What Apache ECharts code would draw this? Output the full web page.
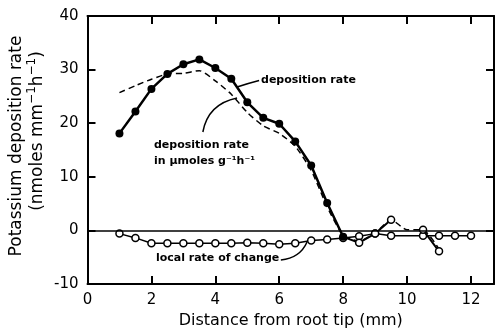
<!DOCTYPE html>
<html><head><meta charset="utf-8">
<script src="https://cdn.jsdelivr.net/npm/echarts@6/dist/echarts.min.js"></script>
<style>html,body{margin:0;padding:0;background:#fff}#c{width:495px;height:331px}</style>
</head><body><div id="c"></div>
<script>
// Deposition rate (nmoles mm-1 h-1), filled circles
const depX = [1, 1.5, 2, 2.5, 3, 3.5, 4, 4.5, 5, 5.5, 6, 6.5, 7, 7.5, 8];
const depY = [18.1, 22.2, 26.4, 29.2, 31.0, 31.9, 30.3, 28.3, 23.9, 21.0, 19.9, 16.6, 12.1, 5.1, -1.2];
// Deposition rate beyond 8 mm (open circles); '-' = gap
const tailX = [8, 8.5, 9, 9.5, 10, 10.5, 11];
const tailY = [-1.2, -2.3, -0.6, 2.0, '-', 0.1, -3.9];
// Deposition rate in umoles g-1 h-1 (dashed)
const umolX = [1, 1.5, 2, 2.5, 3, 3.5, 4, 4.5, 5, 5.5, 6, 6.5, 7, 7.5, 8, 8.5, 9, 9.5, 10, 10.5, 11];
const umolY = [25.7, 27.0, 28.2, 29.2, 29.3, 29.8, 27.9, 25.4, 22.0, 19.5, 18.1, 15.7, 11.2, 4.4, -0.9, -2.0, -0.5, 2.0, 0.1, 0.1, -3.5];
// Local rate of change (open circles)
const locX = [1, 1.5, 2, 2.5, 3, 3.5, 4, 4.5, 5, 5.5, 6, 6.5, 7, 7.5, 8, 8.5, 9, 9.5, 10.5, 11, 11.5, 12];
const locY = [-0.6, -1.4, -2.4, -2.4, -2.4, -2.4, -2.4, -2.4, -2.3, -2.4, -2.6, -2.4, -1.9, -1.7, -1.4, -1.1, -0.6, -1.0, -1.0, -1.0, -1.0, -1.0];
// Axis ticks
const xTicks = [0, 2, 4, 6, 8, 10, 12];
const yTicks = [-10, 0, 10, 20, 30, 40];

const zip = (xs, ys) => xs.map((x, i) => [x, ys[i]]);
const FONT = 'DejaVu Sans';
const chart = echarts.init(document.getElementById('c'), null, {renderer: 'canvas'});

const axisCommon = {
  axisLine: {show: true, onZero: false, lineStyle: {color: '#000', width: 2}},
  axisTick: {show: true, inside: true, length: 8, lineStyle: {color: '#000', width: 2}},
  splitLine: {show: false}
};

const tailData = zip(tailX, tailY).map((p, i) => i === 0 ? {value: p, symbol: 'none'} : p);

chart.setOption({
  animation: false,
  backgroundColor: '#fff',
  grid: {left: 87.5, right: 1, top: 16, bottom: 47, containLabel: false, outerBoundsMode: 'none'},
  xAxis: [
    Object.assign({}, axisCommon, {
      type: 'value', min: xTicks[0], max: 12.72, interval: 2, position: 'bottom',
      axisLabel: {color: '#000', fontFamily: FONT, fontSize: 15, margin: 9,
        formatter: v => xTicks.indexOf(v) >= 0 ? String(v) : ''},
      name: 'Distance from root tip (mm)', nameLocation: 'middle', nameGap: 24,
      nameTextStyle: {color: '#000', fontFamily: FONT, fontSize: 16}
    }),
    Object.assign({}, axisCommon, {
      type: 'value', min: xTicks[0], max: 12.72, interval: 2, position: 'top',
      axisLabel: {show: false}
    })
  ],
  yAxis: [
    Object.assign({}, axisCommon, {
      type: 'value', min: yTicks[0], max: yTicks[yTicks.length - 1], interval: 10, position: 'left',
      axisLabel: {color: '#000', fontFamily: FONT, fontSize: 15, margin: 9}
    }),
    Object.assign({}, axisCommon, {
      type: 'value', min: yTicks[0], max: yTicks[yTicks.length - 1], interval: 10, position: 'right',
      axisLabel: {show: false}
    })
  ],
  series: [
    {
      type: 'line', data: zip(umolX, umolY), showSymbol: false, smooth: 0.2,
      lineStyle: {color: '#000', width: 1.5, type: [6, 4]}, z: 2
    },
    {
      type: 'line', data: zip(depX, depY), symbol: 'circle', symbolSize: 8,
      itemStyle: {color: '#000'}, lineStyle: {color: '#000', width: 2.5}, z: 4
    },
    {
      type: 'line', data: tailData, symbol: 'circle', symbolSize: 7, connectNulls: false,
      itemStyle: {color: '#fff', borderColor: '#000', borderWidth: 1.5},
      lineStyle: {color: '#000', width: 2}, z: 4
    },
    {
      type: 'line', data: zip(locX, locY), symbol: 'circle', symbolSize: 7,
      itemStyle: {color: '#fff', borderColor: '#000', borderWidth: 1.5},
      lineStyle: {color: '#000', width: 1.5}, z: 3,
      markLine: {silent: true, symbol: ['none', 'none'], label: {show: false},
        lineStyle: {color: '#000', width: 1.5, type: 'solid'}, data: [{yAxis: 0}]}
    }
  ]
});

// annotations placed in data coordinates
const P = (x, y) => chart.convertToPixel({gridIndex: 0}, [x, y]);
const txt = (x, y, s) => {
  const p = P(x, y);
  return {type: 'text', x: p[0], y: p[1], z: 10,
    style: {text: s, fill: '#000', font: 'bold 11px "' + FONT + '"', textAlign: 'left', textVerticalAlign: 'middle'}};
};
const curve = (a, c, b) => {
  const p1 = P(a[0], a[1]), pc = P(c[0], c[1]), p2 = P(b[0], b[1]);
  return {type: 'bezierCurve', z: 10, shape: {x1: p1[0], y1: p1[1], cpx1: pc[0], cpy1: pc[1], x2: p2[0], y2: p2[1]},
    style: {stroke: '#000', lineWidth: 1.5, fill: null}};
};
chart.setOption({
  graphic: [
    txt(5.43, 28.06, 'deposition rate'),
    curve([4.68, 26.75], [5.0, 27.4], [5.37, 27.97]),
    txt(2.08, 15.9, 'deposition rate'),
    txt(2.08, 12.95, 'in \u00B5moles g\u207B\u00B9h\u207B\u00B9'),
    curve([3.61, 18.36], [3.77, 23.58], [4.68, 24.7]),
    txt(2.14, -5.15, 'local rate of change'),
    curve([6.05, -5.52], [6.65, -5.15], [6.87, -2.16]),
    // y-axis title (two lines)
    {type: 'text', x: 17, y: 146, rotation: Math.PI / 2, z: 10,
      style: {text: 'Potassium deposition rate', fill: '#000', font: '17px "' + FONT + '"',
        textAlign: 'center', textVerticalAlign: 'middle'}},
    {type: 'text', x: 36, y: 131, rotation: Math.PI / 2, z: 10,
      style: {text: '{a|(nmoles mm}{s|\u22121}{a|h}{s|\u22121}{a|)}', fill: '#000',
        textAlign: 'center', textVerticalAlign: 'middle',
        rich: {
          a: {fontFamily: FONT, fontSize: 17, lineHeight: 20, verticalAlign: 'bottom', fill: '#000'},
          s: {fontFamily: FONT, fontSize: 12, lineHeight: 12, verticalAlign: 'top', fill: '#000'}
        }}}
  ]
});
</script></body></html>
